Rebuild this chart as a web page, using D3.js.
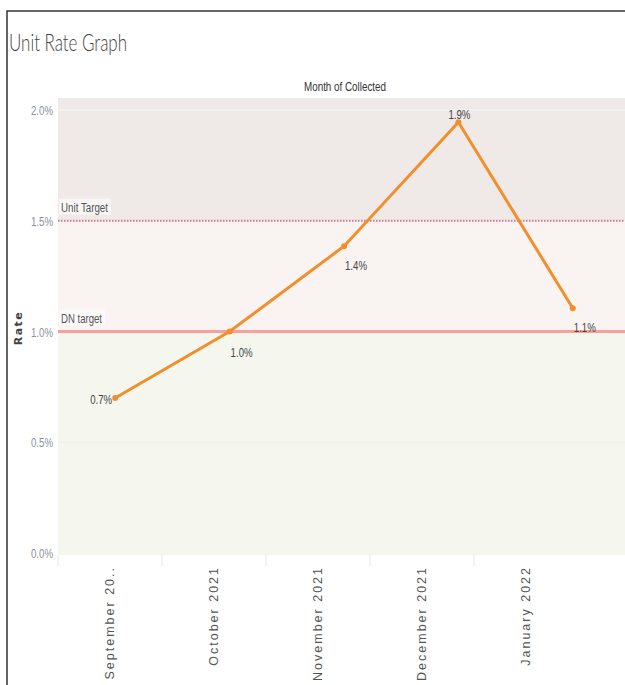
<!DOCTYPE html>
<html>
<head>
<script src="https://d3js.org/d3.v7.min.js"></script>
<style>
body { margin: 0; background: #fff; }
text { font-family: "Liberation Sans", Arial, sans-serif; }
</style>
</head>
<body>
<div id="chart"></div>
<script>
// chart values
const months = ["September 20..", "October 2021", "November 2021", "December 2021", "January 2022"];
const rates = [0.70, 1.00, 1.385, 1.945, 1.105];
const rateLabels = ["0.7%", "1.0%", "1.4%", "1.9%", "1.1%"];
const yTicks = [0, 0.5, 1.0, 1.5, 2.0];
const unitTarget = 1.5;
const dnTarget = 1.0;

const W = 625, H = 685;
const plot = {left: 58, right: 625, top: 98, bottom: 555};

const svg = d3.select("#chart").append("svg")
  .attr("width", W).attr("height", H);

// frame
svg.append("path").attr("d", "M7,685 L7,11 L625,11")
  .attr("fill", "none").attr("stroke", "#333").attr("stroke-width", 1.5);

svg.append("text").attr("x", 9).attr("y", 51)
  .style("font-family", "Lato, 'Open Sans', sans-serif").style("font-weight", 300)
  .style("font-size", "24px").attr("fill", "#444")
  .attr("textLength", 118).attr("lengthAdjust", "spacingAndGlyphs")
  .text("Unit Rate Graph");

svg.append("text").attr("x", 345).attr("y", 91).attr("text-anchor", "middle")
  .style("font-size", "12.5px").attr("fill", "#333")
  .attr("textLength", 82).attr("lengthAdjust", "spacingAndGlyphs")
  .text("Month of Collected");

const y = d3.scaleLinear().domain([0, 2.0]).range([553, 110]);
// points sit on a wider band than the header dividers
const xLine = d3.scaleBand().domain(months).range([58, 630]);
const xAxis = d3.scaleBand().domain(months).range([58, 578]);

// background bands
svg.append("rect").attr("x", plot.left).attr("width", plot.right - plot.left)
  .attr("y", y(dnTarget)).attr("height", plot.bottom - y(dnTarget)).attr("fill", "#f5f7ef");
svg.append("rect").attr("x", plot.left).attr("width", plot.right - plot.left)
  .attr("y", y(unitTarget)).attr("height", y(dnTarget) - y(unitTarget)).attr("fill", "#f9f3f2");
svg.append("rect").attr("x", plot.left).attr("width", plot.right - plot.left)
  .attr("y", plot.top).attr("height", y(unitTarget) - plot.top).attr("fill", "#efeae8");

// gridlines
svg.selectAll(".grid").data([0.5, 2.0]).enter().append("line")
  .attr("x1", plot.left).attr("x2", plot.right)
  .attr("y1", d => y(d)).attr("y2", d => y(d))
  .attr("stroke", d => d == 2.0 ? "#f8f6f5" : "#eceee6").attr("stroke-width", 1);

// y axis ticks
svg.selectAll(".ytick").data(yTicks).enter().append("text")
  .attr("x", 53).attr("y", d => y(d) + 5).attr("text-anchor", "end")
  .style("font-size", "13px").attr("fill", "#8a8f98")
  .attr("textLength", 22).attr("lengthAdjust", "spacingAndGlyphs")
  .text(d => d.toFixed(1) + "%");

svg.append("text").attr("transform", "translate(22,328) rotate(-90)")
  .attr("text-anchor", "middle")
  .style("font-family", "'DejaVu Sans', sans-serif").style("font-size", "11px")
  .style("font-weight", "bold").style("letter-spacing", "1.5px")
  .attr("fill", "#444").text("Rate");

// x dividers and labels
svg.selectAll(".xdiv").data(months).enter().append("line")
  .attr("x1", d => xAxis(d)).attr("x2", d => xAxis(d))
  .attr("y1", plot.bottom).attr("y2", 566)
  .attr("stroke", "#e6e6e6");
svg.selectAll(".xlab").data(months).enter().append("text")
  .attr("transform", d => "translate(" + (xAxis(d) + xAxis.bandwidth() / 2 + 4) + ",566) rotate(-90)")
  .attr("text-anchor", "end")
  .style("font-size", "12.5px")
  .style("letter-spacing", "2px").attr("fill", "#555")
  .text(d => d);

// target lines
svg.append("line").attr("x1", plot.left).attr("x2", plot.right)
  .attr("y1", y(unitTarget)).attr("y2", y(unitTarget))
  .attr("stroke", "#e0708e").attr("stroke-width", 2).attr("stroke-dasharray", "1.5,1.5");
svg.append("line").attr("x1", plot.left).attr("x2", plot.right)
  .attr("y1", y(dnTarget)).attr("y2", y(dnTarget))
  .attr("stroke", "#f8a09c").attr("stroke-width", 3);

[["Unit Target", unitTarget, 52], ["DN target", dnTarget, 46]].forEach(function(t) {
  svg.append("rect").attr("x", 59).attr("y", y(t[1]) - 22).attr("width", t[2])
    .attr("height", 16).attr("fill", "#fff").attr("opacity", 0.55);
  svg.append("text").attr("x", 61).attr("y", y(t[1]) - 9)
    .style("font-size", "13px").attr("fill", "#555")
    .attr("textLength", t[2] - 5).attr("lengthAdjust", "spacingAndGlyphs")
    .text(t[0]);
});

// line
const cx = d => xLine(d) + xLine.bandwidth() / 2;
const line = d3.line().x((d, i) => cx(months[i])).y(d => y(d));
svg.append("path").datum(rates).attr("d", line)
  .attr("fill", "none").attr("stroke", "#f28e2b").attr("stroke-width", 3);
svg.selectAll(".pt").data(rates).enter().append("circle")
  .attr("cx", (d, i) => cx(months[i])).attr("cy", d => y(d)).attr("r", 3)
  .attr("fill", "#f28e2b");

// labels: offsets per point
const offs = [[-3, 6, "end"], [1, 25, "start"], [1, 24, "start"], [1, -3, "middle"], [1, 24, "start"]];
svg.selectAll(".vl").data(rates).enter().append("text")
  .attr("x", (d, i) => cx(months[i]) + offs[i][0])
  .attr("y", (d, i) => y(d) + offs[i][1])
  .attr("text-anchor", (d, i) => offs[i][2])
  .style("font-size", "13px").attr("fill", "#444")
  .attr("textLength", 22).attr("lengthAdjust", "spacingAndGlyphs")
  .text((d, i) => rateLabels[i]);
</script>
</body>
</html>
